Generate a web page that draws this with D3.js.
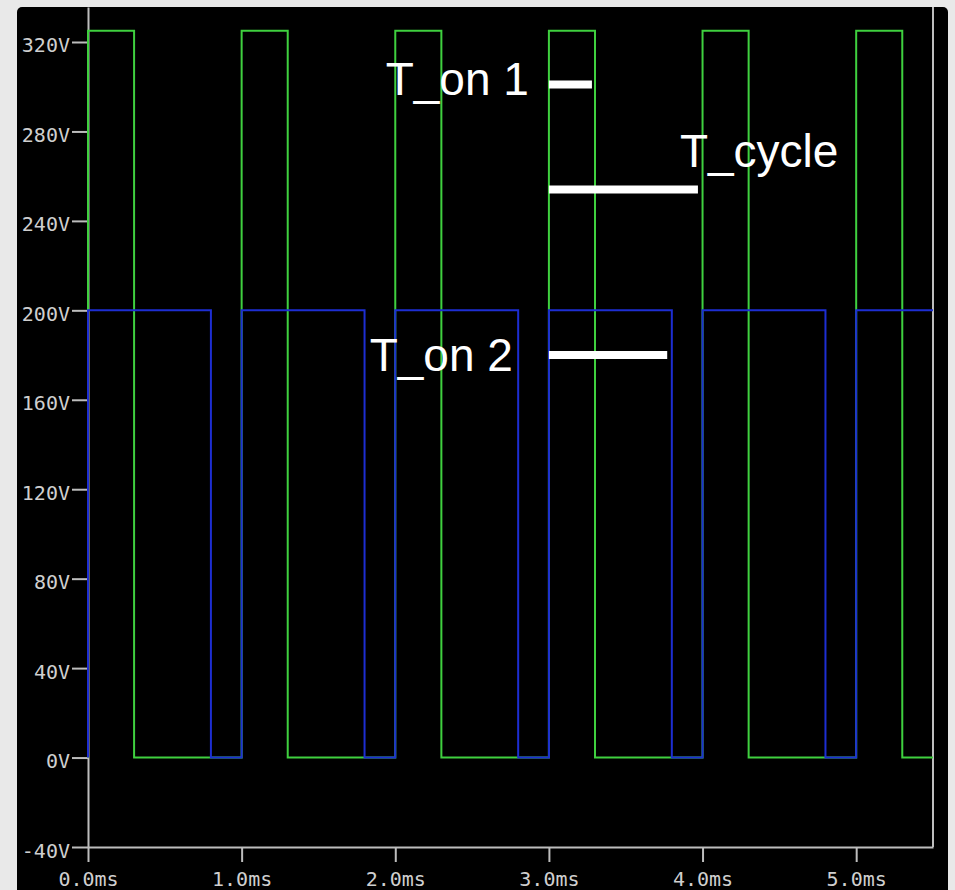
<!DOCTYPE html>
<html>
<head>
<meta charset="utf-8">
<script src="https://cdn.jsdelivr.net/npm/d3@7"></script>
<style>
    html,body {margin:0;padding:0;background:#e9e9e9;overflow:hidden;}
    svg {display:block;}
</style>
</head>
<body>
<div class="content"></div>
<script>
//waveform 1 (green), step points: time in ms, value in V
var greenTimes = [0, 0, 0.3, 1.0, 1.3, 2.0, 2.3, 3.0, 3.3, 4.0, 4.3, 5.0, 5.3, 5.5];
var greenVolts = [0, 325, 0, 325, 0, 325, 0, 325, 0, 325, 0, 325, 0, 0];

//waveform 2 (blue)
var blueTimes = [0, 0, 0.8, 1.0, 1.8, 2.0, 2.8, 3.0, 3.8, 4.0, 4.8, 5.0, 5.5];
var blueVolts = [0, 200, 0, 200, 0, 200, 0, 200, 0, 200, 0, 200, 200];

//axis ticks
var xTicks = [0, 1, 2, 3, 4, 5];
var yTicks = [-40, 0, 40, 80, 120, 160, 200, 240, 280, 320];

//annotation bars: label, start/end time (ms), level (V)
var noteLabels = ['T_on 1', 'T_cycle', 'T_on 2'];
var noteStart = [3.0, 3.0, 3.0];
var noteEnd = [3.28, 3.97, 3.77];
var noteLevel = [301, 254, 180];

window.addEventListener('load', function () {
    var width = 955,
    height = 890;

    var svg = d3.select('.content').append('svg')
        .attr('width', width)
        .attr('height', height);

    //black scope screen
    svg.append('rect')
        .attr('x', 17)
        .attr('y', 7)
        .attr('width', 931)
        .attr('height', 890)
        .attr('rx', 5)
        .attr('fill', '#000');

    var x = d3.scaleLinear().domain([0, 5.5]).range([88, 933]),
    y = d3.scaleLinear().domain([-40, 335.65]).range([847, 7]);

    var axisColor = '#bdbdbd',
    textColor = '#cfcfcf';

    //y axis
    var gy = svg.append('g')
        .attr('transform', 'translate(' + x(0) + ',0)')
        .call(d3.axisLeft(y)
            .tickValues(yTicks)
            .tickSize(16)
            .tickSizeOuter(0)
            .tickPadding(2)
            .tickFormat(function (d) { return d + 'V'; }));
    //x axis
    var gx = svg.append('g')
        .attr('transform', 'translate(0,' + y(-40) + ')')
        .call(d3.axisBottom(x)
            .tickValues(xTicks)
            .tickSize(15)
            .tickSizeOuter(0)
            .tickFormat(function (d) { return d3.format('.1f')(d) + 'ms'; }));

    [gy, gx].forEach(function (g) {
        g.selectAll('path,line')
            .attr('stroke', axisColor)
            .attr('stroke-width', 2);
        g.selectAll('text')
            .attr('fill', textColor)
            .attr('font-family', '"DejaVu Sans Mono", monospace')
            .attr('font-size', 20);
    });
    gy.selectAll('text').attr('dy', 10);
    gx.selectAll('text').attr('y', 39).attr('dy', 0);

    //right frame line
    svg.append('line')
        .attr('x1', x(5.5)).attr('x2', x(5.5))
        .attr('y1', y.range()[1]).attr('y2', y(-40))
        .attr('stroke', axisColor)
        .attr('stroke-width', 2);

    var line = d3.line()
        .x(function (d) { return x(d[0]); })
        .y(function (d) { return y(d[1]); })
        .curve(d3.curveStepAfter);

    var green = d3.zip(greenTimes, greenVolts),
    blue = d3.zip(blueTimes, blueVolts);

    svg.append('path')
        .attr('d', line(green))
        .attr('fill', 'none')
        .attr('stroke', '#3fd03f')
        .attr('stroke-width', 2);

    svg.append('path')
        .attr('d', line(blue))
        .attr('fill', 'none')
        .attr('stroke', '#1d2ed2')
        .attr('stroke-width', 2);

    //annotations
    var notes = noteLabels.map(function (l, i) {
        return {label: l, t0: noteStart[i], t1: noteEnd[i], v: noteLevel[i]};
    });
    //where each label sits relative to its bar
    var labelPlace = {
        'T_on 1': {side: 'left', dx: -20, dy: 11},
        'T_cycle': {side: 'right', dx: -18, dy: -23},
        'T_on 2': {side: 'left', dx: -36, dy: 16}
    };

    var ann = svg.append('g');
    ann.selectAll('line').data(notes).enter().append('line')
        .attr('x1', function (d) { return x(d.t0); })
        .attr('x2', function (d) { return x(d.t1); })
        .attr('y1', function (d) { return y(d.v); })
        .attr('y2', function (d) { return y(d.v); })
        .attr('stroke', '#fff')
        .attr('stroke-width', 8);

    ann.selectAll('text').data(notes).enter().append('text')
        .attr('x', function (d) {
            var p = labelPlace[d.label];
            return (p.side === 'left' ? x(d.t0) : x(d.t1)) + p.dx;
        })
        .attr('y', function (d) { return y(d.v) + labelPlace[d.label].dy; })
        .attr('text-anchor', function (d) {
            return labelPlace[d.label].side === 'left' ? 'end' : 'start';
        })
        .attr('fill', '#fff')
        .attr('font-family', '"Liberation Sans", Arial, sans-serif')
        .attr('font-size', 46)
        .text(function (d) { return d.label; });
});
</script>
</body>
</html>
